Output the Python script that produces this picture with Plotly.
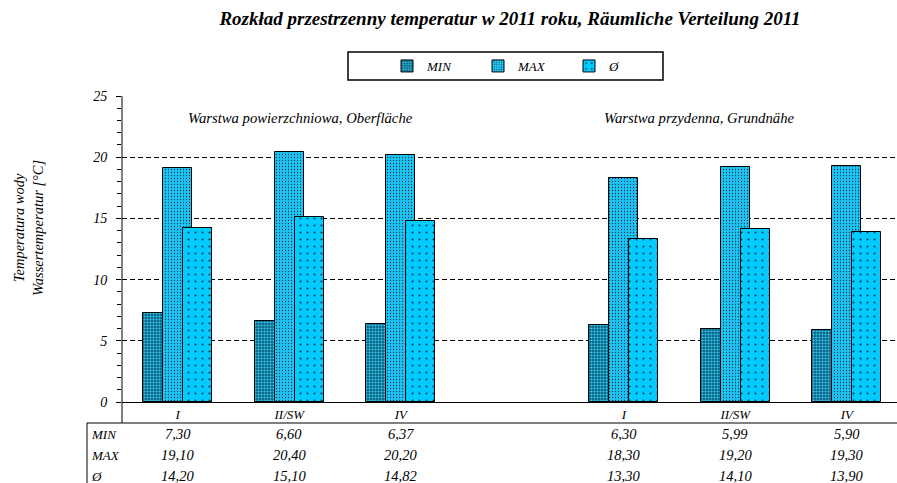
import plotly.graph_objects as go

# ---- data ----
layers = ["Warstwa powierzchniowa, Oberfläche", "Warstwa przydenna, Grundnähe"]
stations = ["I", "II/SW", "IV"]
series_names = ["MIN", "MAX", "Ø"]
min_vals = [7.30, 6.60, 6.37, 6.30, 5.99, 5.90]
max_vals = [19.10, 20.40, 20.20, 18.30, 19.20, 19.30]
avg_vals = [14.20, 15.10, 14.82, 13.30, 14.10, 13.90]
y_ticks = [0, 5, 10, 15, 20, 25]
title_text = "Rozkład przestrzenny temperatur w 2011 roku, Räumliche Verteilung 2011"
y_title = "Temperatura wody<br>Wassertemperatur [°C]"

# positions: each layer group of stations, one empty slot between layers
pos = [li * (len(stations) + 1) + si for li in range(len(layers)) for si in range(len(stations))]
tick_text = [s for _ in layers for s in stations]

FONT = "Liberation Serif"

W, H = 897, 483
ML, MR, MT, MB = 122, 0, 96, 81
PW, PH = W - ML - MR, H - MT - MB


def px2paper_x(px):
    return (px - ML) / PW


def px2paper_y(py):
    return (H - MB - py) / PH


bar_w = 0.26
styles = [
    dict(offset=-0.31, pattern=dict(shape=".", bgcolor="#0b6482", fgcolor="#38cbf4", size=3, solidity=0.4, fillmode="replace")),
    dict(offset=-0.13, pattern=dict(shape=".", bgcolor="#1ec4f4", fgcolor="#0a3d55", size=3, solidity=0.15, fillmode="replace")),
    dict(offset=0.05, pattern=dict(shape=".", bgcolor="#00ccff", fgcolor="#063a55", size=7, solidity=0.07, fillmode="replace")),
]

fig = go.Figure()
for name, vals, st in zip(series_names, [min_vals, max_vals, avg_vals], styles):
    fig.add_trace(go.Bar(
        x=pos, y=vals, name=name, width=bar_w, offset=st["offset"],
        marker=dict(color=st["pattern"]["bgcolor"], pattern=st["pattern"],
                    line=dict(color="black", width=1)),
    ))

# data table below
row_y_px = [434, 455, 476]
for name, vals, ry in zip(series_names, [min_vals, max_vals, avg_vals], row_y_px):
    fig.add_annotation(x=px2paper_x(89), y=px2paper_y(ry), xref="paper", yref="paper",
                       text=name, showarrow=False, xanchor="left", yanchor="middle",
                       font=dict(family=FONT, size=13, style="italic", color="black"))
    for p, v in zip(pos, vals):
        fig.add_annotation(x=p, y=px2paper_y(ry), xref="x", yref="paper",
                           text=f"{v:.2f}".replace(".", ","), showarrow=False,
                           xanchor="center", yanchor="middle",
                           font=dict(family=FONT, size=14.5, style="italic", color="black"))

# layer labels
layer_x = [0.07, 3.8]
for lx, lab in zip(layer_x, layers):
    fig.add_annotation(x=lx, y=px2paper_y(118), xref="x", yref="paper", text=lab,
                       showarrow=False, xanchor="left", yanchor="middle",
                       font=dict(family=FONT, size=14.7, style="italic", color="black"))

# y-axis title
fig.add_annotation(x=px2paper_x(28), y=px2paper_y(228), xref="paper", yref="paper",
                   text=y_title, showarrow=False, textangle=-90,
                   xanchor="center", yanchor="middle",
                   font=dict(family=FONT, size=14.5, style="italic", color="black"))

# table lines and legend box
line = dict(color="black", width=1)
fig.add_shape(type="line", xref="paper", yref="paper", x0=px2paper_x(87), x1=1,
              y0=px2paper_y(423), y1=px2paper_y(423), line=line)
fig.add_shape(type="line", xref="paper", yref="paper", x0=px2paper_x(87), x1=px2paper_x(87),
              y0=px2paper_y(423), y1=px2paper_y(483), line=line)
fig.add_shape(type="line", xref="paper", yref="paper", x0=0, x1=0,
              y0=px2paper_y(423), y1=1, line=line)
fig.add_shape(type="rect", xref="paper", yref="paper",
              x0=px2paper_x(348), x1=px2paper_x(663), y0=px2paper_y(80), y1=px2paper_y(52),
              line=dict(color="black", width=1.5), fillcolor="rgba(0,0,0,0)")

fig.update_layout(
    width=W, height=H,
    margin=dict(l=ML, r=MR, t=MT, b=MB, autoexpand=False),
    paper_bgcolor="white", plot_bgcolor="white",
    barmode="overlay", bargap=0,
    title=dict(text=title_text, x=510 / W, xanchor="center",
               y=1 - 18 / H, yanchor="middle", xref="container", yref="container",
               font=dict(family=FONT, size=19, weight="bold", style="italic", color="black")),
    legend=dict(orientation="h", x=px2paper_x(387), y=px2paper_y(66), xanchor="left", yanchor="middle",
                bgcolor="rgba(0,0,0,0)", borderwidth=0, entrywidth=46, entrywidthmode="pixels",
                itemwidth=30, traceorder="normal",
                font=dict(family=FONT, size=13, style="italic", color="black")),
    showlegend=True,
)
fig.update_xaxes(range=[-0.5, 6.45], tickvals=pos, ticktext=tick_text, ticks="",
                 showline=True, linecolor="black", linewidth=1, showgrid=False, zeroline=False,
                 tickfont=dict(family=FONT, size=13, style="italic", color="black"))
fig.update_yaxes(range=[0, 25], tickvals=y_ticks, ticks="outside", ticklen=5, tickcolor="black",
                 ticklabelstandoff=6,
                 minor=dict(ticks="outside", ticklen=4, dtick=1, tickcolor="black", showgrid=False),
                 showgrid=True, gridcolor="black", griddash="5px,3px", gridwidth=1,
                 showline=False, zeroline=False,
                 tickfont=dict(family=FONT, size=14, style="italic", color="black"))

fig.write_html("out.html", config={"displayModeBar": False},
               post_script="document.body.style.margin='0';document.body.style.padding='0';"
                           "document.body.style.overflow='hidden';")
